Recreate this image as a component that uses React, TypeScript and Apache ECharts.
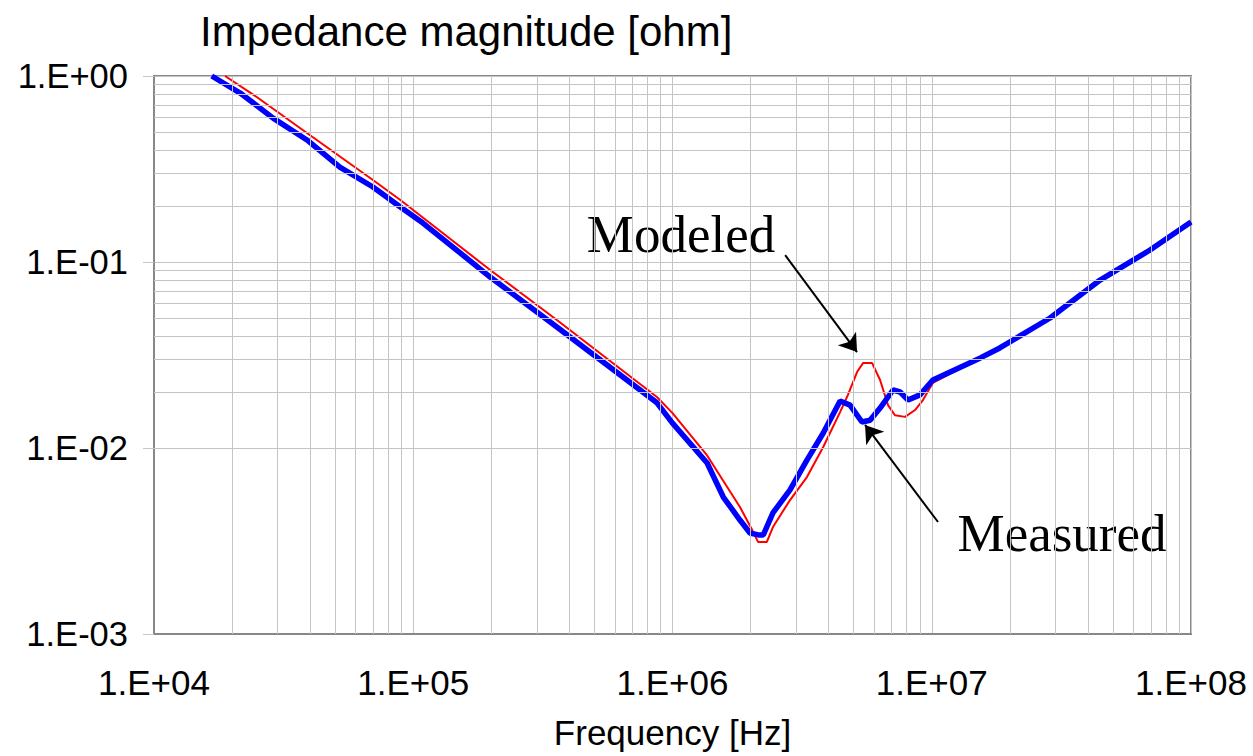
import React, { useEffect, useRef } from "react";
import * as echarts from "echarts";

// Measured impedance (blue)
const freqMeasured = [16700, 21500, 28800, 38900, 52100, 69900, 88900, 109000, 198000, 358000, 644000, 871000, 1.0e6, 1.36e6, 1.57e6, 1.82e6, 1.99e6, 2.14e6, 2.24e6, 2.44e6, 2.84e6, 3.3e6, 3.81e6, 4.43e6, 4.84e6, 5.38e6, 5.78e6, 6.32e6, 7.09e6, 7.55e6, 8.1e6, 9.01e6, 1.01e7, 1.54e7, 1.83e7, 2.86e7, 4.46e7, 6.95e7, 1e8];
const zMeasured = [1.0, 0.81, 0.594, 0.453, 0.324, 0.253, 0.198, 0.162, 0.083, 0.0447, 0.0241, 0.0175, 0.0136, 0.0083, 0.00545, 0.0041, 0.00349, 0.00341, 0.00341, 0.00448, 0.00595, 0.00861, 0.012, 0.0179, 0.017, 0.0138, 0.0141, 0.0164, 0.0205, 0.02, 0.0181, 0.0193, 0.0232, 0.0305, 0.0345, 0.05, 0.08, 0.116, 0.164];

// Modeled impedance (red)
const freqModeled = [18800, 24900, 38900, 69900, 88900, 198000, 358000, 871000, 1.0e6, 1.36e6, 1.82e6, 2.03e6, 2.14e6, 2.31e6, 2.44e6, 2.84e6, 3.3e6, 3.81e6, 4.43e6, 4.75e6, 5.15e6, 5.43e6, 5.89e6, 6.32e6, 6.78e6, 7.21e6, 7.89e6, 8.62e6, 9.25e6, 1.01e7, 1.54e7, 1.83e7, 2.86e7, 4.46e7, 6.95e7, 1e8];
const zModeled = [1.0, 0.771, 0.494, 0.276, 0.216, 0.0906, 0.0488, 0.0188, 0.0154, 0.00912, 0.00482, 0.00362, 0.00312, 0.00312, 0.00376, 0.00525, 0.00698, 0.0101, 0.0156, 0.0193, 0.0256, 0.0286, 0.0286, 0.0232, 0.017, 0.015, 0.0147, 0.016, 0.0181, 0.0224, 0.0305, 0.0345, 0.05, 0.08, 0.116, 0.164];

// Axis ranges and minor grid
const xDecades = [1e4, 1e5, 1e6, 1e7];
const yDecades = [1e-3, 1e-2, 1e-1];
const minorMultipliers = [2, 3, 4, 5, 6, 7, 8, 9];

// Annotation arrows: [tail, tip] in data coordinates
const modeledArrow = [[2.72e6, 0.109], [5.15e6, 0.0328]];
const measuredArrow = [[1.057e7, 0.004], [5.53e6, 0.0133]];

const titleText = "Impedance magnitude [ohm]";
const xName = "Frequency [Hz]";

const fmt = (v: number) => {
  const e = Math.round(Math.log10(v));
  const s = e < 0 ? "-" : "+";
  const a = Math.abs(e);
  return "1.E" + s + (a < 10 ? "0" + a : "" + a);
};

const SANS = "'Liberation Sans', Arial, sans-serif";
const SERIF = "'Liberation Serif', 'Times New Roman', serif";

export default function App() {
  const ref = useRef<HTMLDivElement>(null);
  useEffect(() => {
    if (!ref.current) return;
    const chart = echarts.init(ref.current, null, { renderer: "svg" });
    const minorX: any[] = [];
    xDecades.forEach((d) => minorMultipliers.forEach((m) => minorX.push({ xAxis: m * d })));
    const minorY: any[] = [];
    yDecades.forEach((d) => minorMultipliers.forEach((m) => minorY.push({ yAxis: m * d })));
    const gridColor = "#c4c4c4";
    chart.setOption({
      animation: false,
      backgroundColor: "#ffffff",
      title: {
        text: titleText,
        left: 195,
        top: 5,
        textStyle: { fontFamily: SANS, fontSize: 42, fontWeight: "normal", color: "#000" },
      },
      grid: {
        left: 154,
        right: 62,
        top: 76,
        bottom: 122,
        show: true,
        borderColor: "#888888",
        borderWidth: 2,
        backgroundColor: "transparent",
      },
      xAxis: {
        type: "log",
        logBase: 10,
        min: 1e4,
        max: 1e8,
        name: xName,
        nameLocation: "middle",
        nameGap: 81,
        nameTextStyle: { fontFamily: SANS, fontSize: 35, color: "#000" },
        axisLine: { show: true, lineStyle: { color: "#888888", width: 2 } },
        axisTick: { show: false },
        axisLabel: { formatter: fmt, fontFamily: SANS, fontSize: 35, color: "#000", margin: 31 },
        splitLine: { show: true, lineStyle: { color: gridColor, width: 1 } },
      },
      yAxis: {
        type: "log",
        logBase: 10,
        min: 1e-3,
        max: 1,
        axisLine: { show: true, lineStyle: { color: "#888888", width: 2 } },
        axisTick: { show: true, inside: false, length: 11, lineStyle: { color: "#c8c8c8", width: 1 } },
        axisLabel: { formatter: fmt, fontFamily: SANS, fontSize: 34.5, color: "#000", margin: 26 },
        splitLine: { show: true, lineStyle: { color: gridColor, width: 1 } },
      },
      series: [
        {
          name: "minorGrid",
          type: "line",
          data: [],
          silent: true,
          z: 1,
          markLine: {
            silent: true,
            symbol: "none",
            label: { show: false },
            lineStyle: { color: gridColor, width: 1, type: "solid" },
            data: [...minorX, ...minorY],
          },
        },
        {
          name: "Modeled",
          type: "line",
          data: freqModeled.map((f, i) => [f, zModeled[i]]),
          showSymbol: false,
          z: 3,
          lineStyle: { color: "#ff0000", width: 2 },
          itemStyle: { color: "#ff0000" },
        },
        {
          name: "Measured",
          type: "line",
          data: freqMeasured.map((f, i) => [f, zMeasured[i]]),
          showSymbol: false,
          z: 4,
          lineStyle: { color: "#0000ff", width: 5.5 },
          itemStyle: { color: "#0000ff" },
        },
        {
          name: "arrows",
          type: "line",
          data: [],
          silent: true,
          z: 10,
          markLine: {
            silent: true,
            symbol: ["none", "arrow"],
            symbolSize: 17,
            label: { show: false },
            lineStyle: { color: "#000", width: 2, type: "solid" },
            data: [
              [{ coord: modeledArrow[0] }, { coord: modeledArrow[1] }],
              [{ coord: measuredArrow[0] }, { coord: measuredArrow[1] }],
            ],
          },
        },
      ],
      graphic: [
        {
          type: "group",
          z: 20,
          children: [
            { type: "rect", shape: { x: 567, y: 190, width: 218, height: 83 }, style: { fill: "#ffffff" } },
            {
              type: "text",
              x: 681,
              y: 234,
              style: { text: "Modeled", fontFamily: SERIF, fontSize: 53, fill: "#000", align: "center", verticalAlign: "middle" },
            },
            { type: "rect", shape: { x: 938, y: 488, width: 248, height: 84 }, style: { fill: "#ffffff" } },
            {
              type: "text",
              x: 1062,
              y: 533,
              style: { text: "Measured", fontFamily: SERIF, fontSize: 53, fill: "#000", align: "center", verticalAlign: "middle" },
            },
          ],
        },
      ],
    });
    return () => chart.dispose();
  }, []);
  return <div ref={ref} style={{ position: "fixed", left: 0, top: 0, width: 1253, height: 756 }} />;
}
